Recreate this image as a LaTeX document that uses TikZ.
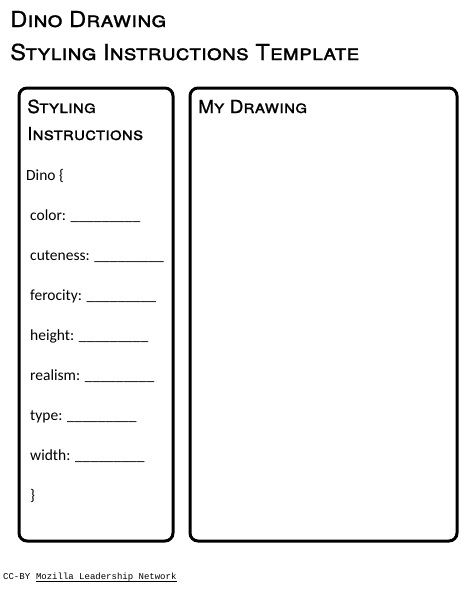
\documentclass[tikz,border=0pt]{standalone}
\usepackage{fontspec}
\setmainfont{Carlito}
\newfontfamily\headfont[FakeBold=0.8]{TeX Gyre Heros}
\newfontfamily\footfont{Liberation Mono}
\usetikzlibrary{positioning}
\tikzset{
  panel/.style={draw, line width=3pt, rounded corners=8pt},
  title/.style={anchor=base west, inner sep=0pt, xscale=1.08, font=\headfont\scshape\fontsize{22}{24}\selectfont},
  heading/.style={anchor=base west, inner sep=0pt, xscale=1.05, font=\headfont\scshape\fontsize{18}{20}\selectfont},
  item/.style={anchor=base west, inner sep=0pt, font=\fontsize{15.5}{19}\selectfont},
  credit/.style={anchor=base west, inner sep=0pt, font=\footfont\fontsize{9}{10}\selectfont}
}
\newcommand{\blankline}{\_\_\_\_\_\_\_\_\_}

\begin{document}
\begin{tikzpicture}[x=1pt, y=-1pt]
    \useasboundingbox (0,0) rectangle (475,606);
    % title
    \node[title] (t1) at (10,27) {Dino Drawing};
    \node[title] (t2) at (10,60) {Styling Instructions Template};
    % the two panels
    \draw[panel] (19,88) rectangle (173,541);
    \draw[panel] (190,88) rectangle (457,541);
    \node[heading] (h1) at (27,113) {Styling};
    \node[heading] (h2) at (27,140) {Instructions};
    \node[heading] (h3) at (198,113) {My Drawing};
    % the list
    \node[item] (dino) at (26,180) {Dino \{};
    \foreach \prop [count=\i] in {color, cuteness, ferocity, height, realism, type, width}
      \node[item] (p\i) at (30,180+40*\i) {\prop: \blankline};
    \node[item] (close) at (30,500) {\}};
    % footer
    \node[credit] (cc) at (3,579) {CC-BY};
    \node[credit, right=5.4pt of cc.base east, anchor=base west] (net) {Mozilla Leadership Network};
    \draw[line width=0.6pt] ([yshift=-2pt]net.base west) -- ([yshift=-2pt]net.base east);
\end{tikzpicture}
\end{document}
